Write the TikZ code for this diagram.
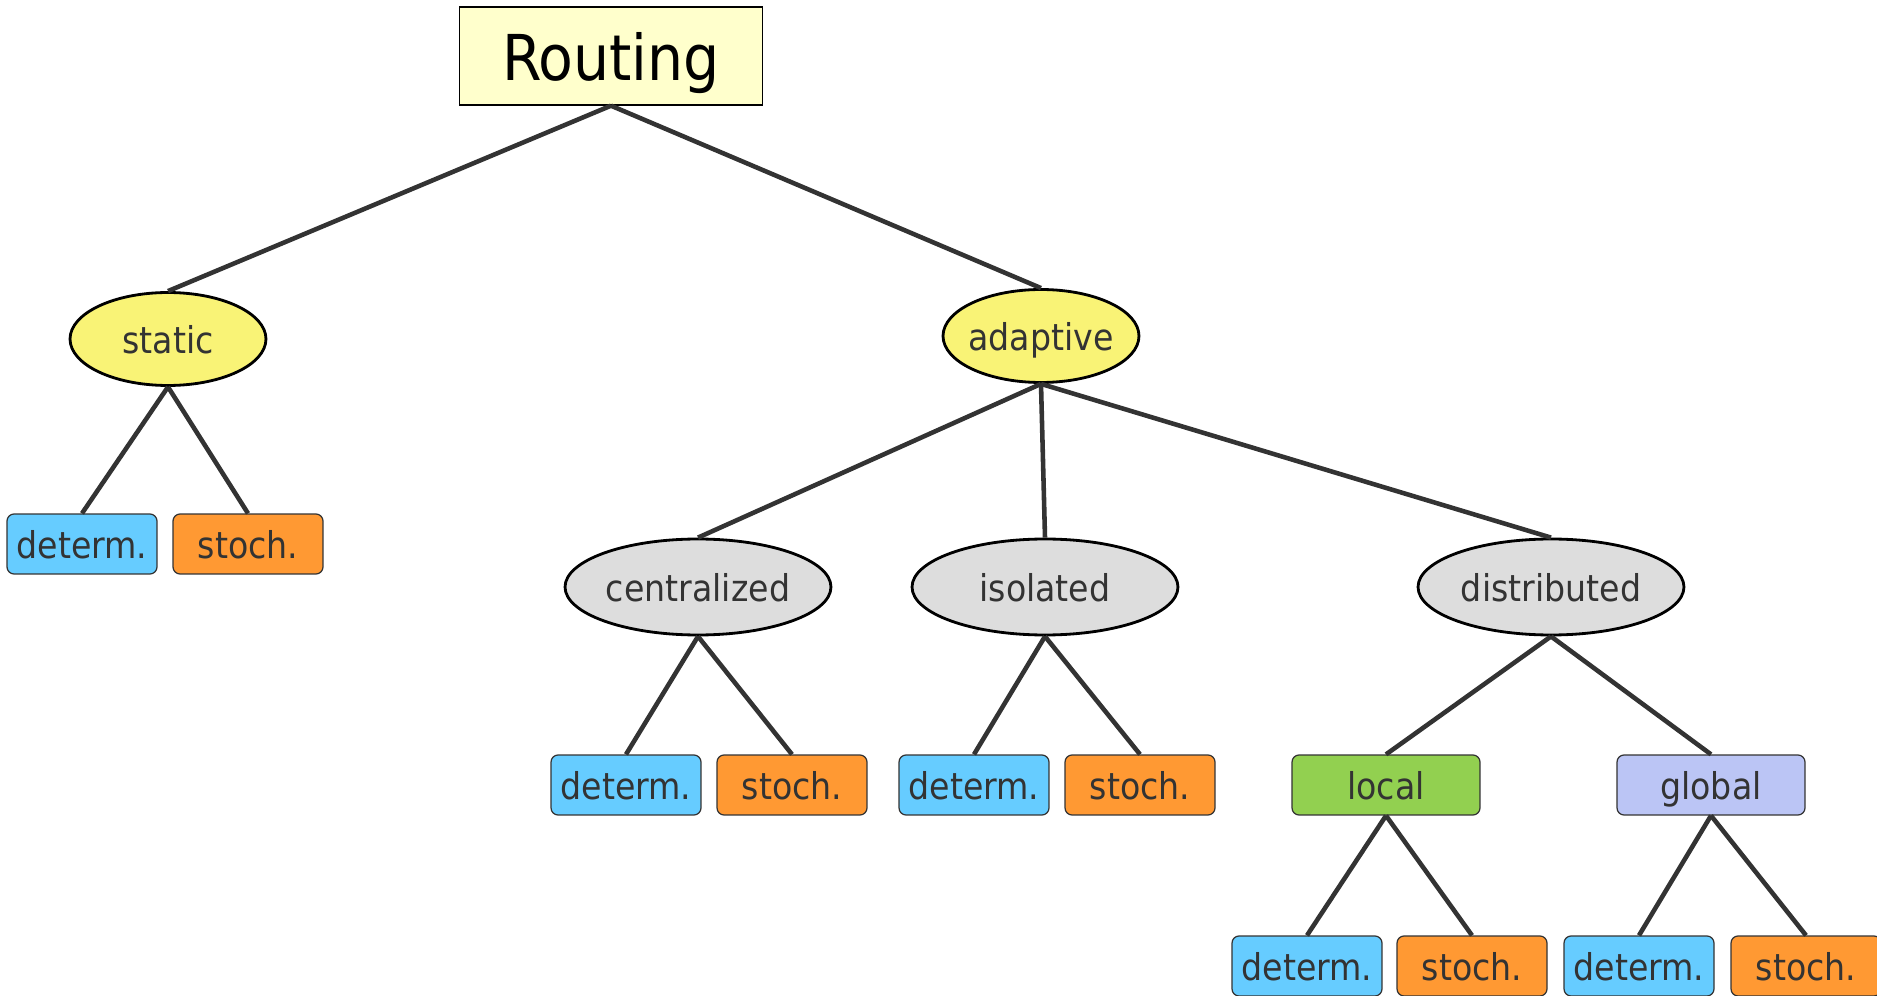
\documentclass[tikz,border=0pt]{standalone}
\usepackage{fontspec}
\setmainfont{DejaVu Sans Condensed}
\usetikzlibrary{shapes.geometric}
\definecolor{rtdark}{HTML}{333333}
\definecolor{rtroot}{HTML}{FFFFCC}
\definecolor{rtyellow}{HTML}{F9F376}
\definecolor{rtgrey}{HTML}{DDDDDD}
\definecolor{rtblue}{HTML}{66CCFF}
\definecolor{rtorange}{HTML}{FF9933}
\definecolor{rtgreen}{HTML}{92D050}
\definecolor{rtlav}{HTML}{BBC5F5}
\tikzset{
  root/.style={draw=black,fill=rtroot,line width=0.8pt,minimum width=60.6mm,
               minimum height=19.6mm,inner sep=0pt,text depth=0pt,
               font=\fontsize{36}{40}\selectfont},
  kind/.style={draw=black,fill=rtyellow,ellipse,line width=1.6pt,minimum width=39.2mm,
               minimum height=18.6mm,inner xsep=-6mm,inner ysep=0pt,text depth=0pt,
               text=rtdark,font=\fontsize{21}{24}\selectfont},
  where/.style={kind,fill=rtgrey,minimum width=53.2mm,minimum height=19.2mm},
  leaf/.style={draw=rtdark,rounded corners=4pt,line width=0.7pt,minimum width=30mm,
               minimum height=12mm,inner sep=0pt,text depth=0pt,text=rtdark,
               font=\fontsize{21}{24}\selectfont},
  det/.style={leaf,fill=rtblue},
  sto/.style={leaf,fill=rtorange},
  scope/.style={leaf,minimum width=37.6mm},
  ln/.style={rtdark,line width=2.6pt},
}
\begin{document}
\begin{tikzpicture}[x=0.02cm,y=-0.02cm]
      \useasboundingbox (0,0) rectangle (1877,996);
      \node[root] (rt) at (611,56) {Routing};
      \node[kind] (st) at (168,339) {static};
      \node[kind] (ad) at (1041,336) {adaptive};
      \node[det] (st1) at (82,544) {determ.};
      \node[sto] (st2) at (248,544) {stoch.};
      \node[where] (ce) at (698,587) {centralized};
      \node[where] (is) at (1045,587) {isolated};
      \node[where] (di) at (1551,587) {distributed};
      \node[det] (ce1) at (626,785) {determ.};
      \node[sto] (ce2) at (792,785) {stoch.};
      \node[det] (is1) at (974,785) {determ.};
      \node[sto] (is2) at (1140,785) {stoch.};
      \node[scope,fill=rtgreen] (lo) at (1386,785) {local};
      \node[scope,fill=rtlav] (gl) at (1711,785) {global};
      \node[det] (lo1) at (1307,966) {determ.};
      \node[sto] (lo2) at (1472,966) {stoch.};
      \node[det] (gl1) at (1639,966) {determ.};
      \node[sto] (gl2) at (1806,966) {stoch.};
      \foreach \a/\b in {rt/st,rt/ad,st/st1,st/st2,ad/ce,ad/is,ad/di,ce/ce1,ce/ce2,
                         is/is1,is/is2,di/lo,di/gl,lo/lo1,lo/lo2,gl/gl1,gl/gl2}
        \draw[ln](\a.south)--(\b.north);
    \end{tikzpicture}
\end{document}
